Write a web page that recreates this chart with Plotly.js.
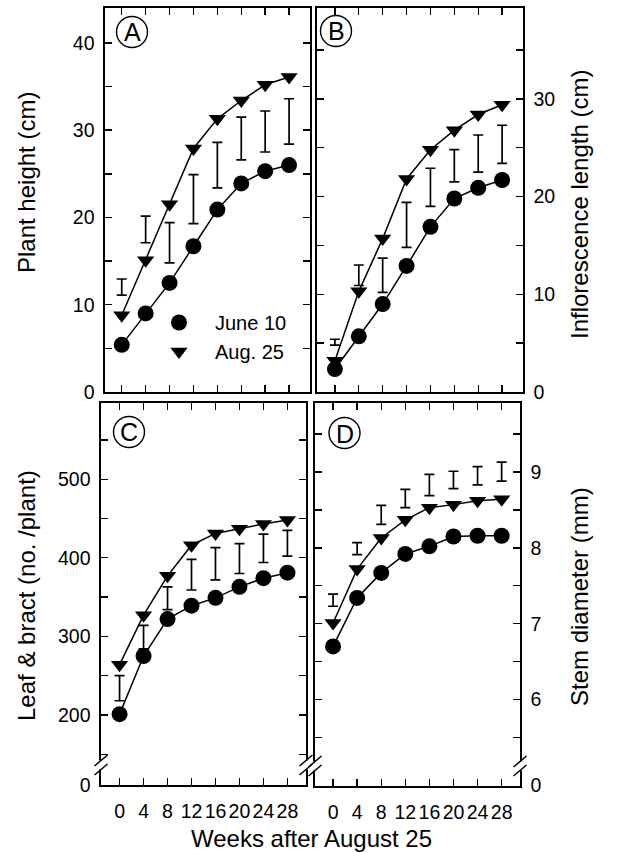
<!DOCTYPE html>
<html><head><meta charset="utf-8">
<script src="https://cdn.plot.ly/plotly-3.0.1.min.js"></script>
<style>html,body{margin:0;padding:0;background:#fff}#chart{width:619px;height:853px}</style>
</head><body><div id="chart"></div>
<script>
// ---------- data ----------
const weeks = [0, 4, 8, 12, 16, 20, 24, 28];
const weekLabels = ['0', '4', '8', '12', '16', '20', '24', '28'];
const seriesNames = ['June 10', 'Aug. 25'];

const heightJune = [5.4, 9.0, 12.5, 16.7, 20.9, 23.9, 25.3, 26.0];
const heightAug = [8.8, 15.1, 21.5, 27.9, 31.3, 33.4, 35.2, 36.1];
const heightLsdLow = [11.1, 17.1, 14.8, 19.3, 23.4, 26.6, 27.5, 28.4];
const heightLsdHigh = [12.95, 20.15, 19.4, 24.9, 28.6, 31.5, 32.2, 33.6];

const inflJune = [2.35, 5.7, 9.0, 12.9, 16.9, 19.8, 20.9, 21.7];
const inflAug = [3.2, 10.3, 15.7, 21.8, 24.8, 26.8, 28.4, 29.4];
const inflLsdLow = [4.8, 10.9, 10.2, 14.8, 19.0, 21.5, 22.5, 23.4];
const inflLsdHigh = [5.4, 13.0, 13.7, 19.4, 22.9, 24.8, 26.3, 27.3];

const leafJune = [201, 275, 322, 339, 349, 363, 374, 381];
const leafAug = [264, 327, 377, 416, 431, 437, 443, 448];
const leafLsdLow = [218, 284, 334, 359, 372, 380, 394, 402];
const leafLsdHigh = [250, 314, 363, 398, 413, 418, 430, 435];

const stemJune = [6.70, 7.34, 7.67, 7.92, 8.02, 8.15, 8.16, 8.16];
const stemAug = [7.01, 7.72, 8.13, 8.37, 8.53, 8.57, 8.62, 8.64];
const stemLsdLow = [7.23, 7.91, 8.31, 8.53, 8.69, 8.78, 8.83, 8.88];
const stemLsdHigh = [7.39, 8.07, 8.56, 8.77, 8.97, 9.01, 9.07, 9.13];

const heightTicks = [0, 10, 20, 30, 40];
const heightMinor = [5, 15, 25, 35];
const inflTicks = [0, 10, 20, 30];
const inflMinor = [5, 15, 25, 35];
const leafTicks = [200, 300, 400, 500];
const leafMinor = [150, 250, 350, 450, 550];
const stemTicks = [6, 7, 8, 9];
const stemMinor = [5.5, 6.5, 7.5, 8.5, 9.5];
const brokenAxisLabel = '0';

const panelLetters = ['A', 'B', 'C', 'D'];
const yTitles = ['Plant height (cm)', 'Inflorescence length (cm)', 'Leaf &amp; bract (no. /plant)', 'Stem diameter (mm)'];
const xTitle = 'Weeks after August 25';

// ---------- layout helpers ----------
const W = 619, H = 853;
const px = p => p / W;
const py = p => 1 - p / H;
const FONT = 'Liberation Sans, Arial, Helvetica, sans-serif';

const boxes = [
  {x0: 105, x1: 310, y0: 8, y1: 392},
  {x0: 317, x1: 523, y0: 8, y1: 392},
  {x0: 101, x1: 306, y0: 403, y1: 785},
  {x0: 315, x1: 520, y0: 403, y1: 786}
];
const xRanges = [[-2.8, 31.5], [-3.0, 31.5], [-3.1, 31.1], [-3.0, 31.05]];
const yRanges = [[0, 44], [0, 39.3], [110.8, 597], [4.86, 9.91]];

const panels = [
  {june: heightJune, aug: heightAug, lo: heightLsdLow, hi: heightLsdHigh},
  {june: inflJune, aug: inflAug, lo: inflLsdLow, hi: inflLsdHigh},
  {june: leafJune, aug: leafAug, lo: leafLsdLow, hi: leafLsdHigh},
  {june: stemJune, aug: stemAug, lo: stemLsdLow, hi: stemLsdHigh}
];

const traces = [];
panels.forEach((p, i) => {
  const xa = i === 0 ? 'x' : 'x' + (i + 1);
  const ya = i === 0 ? 'y' : 'y' + (i + 1);
  [p.june, p.aug].forEach((vals, k) => {
    traces.push({x: weeks, y: vals, xaxis: xa, yaxis: ya, mode: 'lines', type: 'scatter',
      line: {color: '#000', width: 1.5}, showlegend: false, hoverinfo: 'skip'});
  });
  [p.june, p.aug].forEach((vals, k) => {
    traces.push({x: weeks, y: vals, xaxis: xa, yaxis: ya, mode: 'markers', type: 'scatter',
      name: seriesNames[k], showlegend: i === 0, legendgroup: 's' + k,
      marker: {color: '#000', symbol: k === 0 ? 'circle' : 'triangle-down', size: k === 0 ? 16 : 15,
        line: {width: 0}}});
  });
  const mid = p.lo.map((v, j) => (v + p.hi[j]) / 2);
  const half = p.lo.map((v, j) => (p.hi[j] - v) / 2);
  traces.push({x: weeks, y: mid, xaxis: xa, yaxis: ya, mode: 'markers', type: 'scatter',
    marker: {size: 1, color: 'rgba(0,0,0,0)'}, showlegend: false, hoverinfo: 'skip',
    error_y: {type: 'data', symmetric: true, array: half, color: '#000', thickness: 1.7, width: 5}});
});

const layout = {
  width: W, height: H,
  margin: {l: 0, r: 0, t: 0, b: 0},
  paper_bgcolor: '#fff', plot_bgcolor: '#fff',
  font: {family: FONT, color: '#000', size: 19.5},
  showlegend: true,
  legend: {x: px(143), y: py(303), xanchor: 'left', yanchor: 'top', itemwidth: 62,
    bgcolor: 'rgba(0,0,0,0)', font: {size: 20, family: FONT}, itemsizing: 'trace', tracegroupgap: 0},
  shapes: [], annotations: []
};

const tickCommon = {showline: true, linecolor: '#000', linewidth: 1.6, mirror: 'ticks',
  ticks: 'inside', ticklen: 7, tickwidth: 1.4, tickcolor: '#000', zeroline: false, showgrid: false,
  tickfont: {size: 19.5, family: FONT, color: '#000'}};

const yTickSets = [
  {vals: heightTicks, text: heightTicks.map(String), minor: heightMinor},
  {vals: inflTicks, text: inflTicks.map(String), minor: inflMinor},
  {vals: [yRanges[2][0] + 0.1].concat(leafTicks), text: [brokenAxisLabel].concat(leafTicks.map(String)), minor: leafMinor},
  {vals: [yRanges[3][0] + 0.005].concat(stemTicks), text: [brokenAxisLabel].concat(stemTicks.map(String)), minor: stemMinor}
];

boxes.forEach((b, i) => {
  const sx = i === 0 ? '' : String(i + 1);
  layout['xaxis' + sx] = Object.assign({}, tickCommon, {
    domain: [px(b.x0), px(b.x1)], range: xRanges[i], anchor: 'y' + sx,
    tickmode: 'array', tickvals: weeks, ticktext: weekLabels,
    showticklabels: i >= 2, ticklabelstandoff: 8, fixedrange: true});
  const ys = yTickSets[i];
  layout['yaxis' + sx] = Object.assign({}, tickCommon, {
    domain: [py(b.y1), py(b.y0)], range: yRanges[i], anchor: 'x' + sx,
    side: (i % 2 === 1) ? 'right' : 'left',
    tickmode: 'array', tickvals: ys.vals, ticktext: ys.text, ticklabelstandoff: 5,
    minor: {tickmode: 'array', tickvals: ys.minor, ticks: 'inside', ticklen: 7, tickwidth: 1.4, tickcolor: '#000'},
    fixedrange: true});
});

// panel letters (circled)
const letterCenters = [[132, 32], [336, 31], [129, 432], [344.5, 433]];
letterCenters.forEach((c, i) => {
  const r = 15.5;
  layout.shapes.push({type: 'circle', xref: 'paper', yref: 'paper',
    x0: px(c[0] - r), x1: px(c[0] + r), y0: py(c[1] + r), y1: py(c[1] - r),
    line: {color: '#000', width: 1.4}, fillcolor: 'rgba(0,0,0,0)', layer: 'above'});
  layout.annotations.push({xref: 'paper', yref: 'paper', x: px(c[0]), y: py(c[1] + 0.5),
    text: panelLetters[i], showarrow: false, xanchor: 'center', yanchor: 'middle',
    font: {size: 25, family: FONT, color: '#000'}});
});

// axis breaks on panels C and D
const breaks = [[101, 765], [306, 765], [315, 766], [520, 766]];
breaks.forEach(bk => {
  const X = bk[0], Y = bk[1];
  layout.shapes.push({type: 'rect', xref: 'paper', yref: 'paper',
    x0: px(X - 2.5), x1: px(X + 2.5), y0: py(Y + 4.5), y1: py(Y - 4.5),
    line: {width: 0}, fillcolor: '#fff', layer: 'above'});
  [-4.5, 4.5].forEach(d => {
    layout.shapes.push({type: 'line', xref: 'paper', yref: 'paper',
      x0: px(X - 6.5), y0: py(Y + d + 5.5), x1: px(X + 6.5), y1: py(Y + d - 5.5),
      line: {color: '#000', width: 1.5}, layer: 'above'});
  });
});

// axis titles
const titlePos = [[26, 183], [579, 205], [26, 596], [579, 597]];
titlePos.forEach((t, i) => {
  layout.annotations.push({xref: 'paper', yref: 'paper', x: px(t[0]), y: py(t[1]),
    text: yTitles[i], textangle: -90, showarrow: false, xanchor: 'center', yanchor: 'middle',
    font: {size: 24, family: FONT, color: '#000'}});
});
layout.annotations.push({xref: 'paper', yref: 'paper', x: px(311), y: py(838),
  text: xTitle, showarrow: false, xanchor: 'center', yanchor: 'middle',
  font: {size: 24, family: FONT, color: '#000'}});

Plotly.newPlot('chart', traces, layout, {staticPlot: true, displayModeBar: false});
</script>
</body></html>
